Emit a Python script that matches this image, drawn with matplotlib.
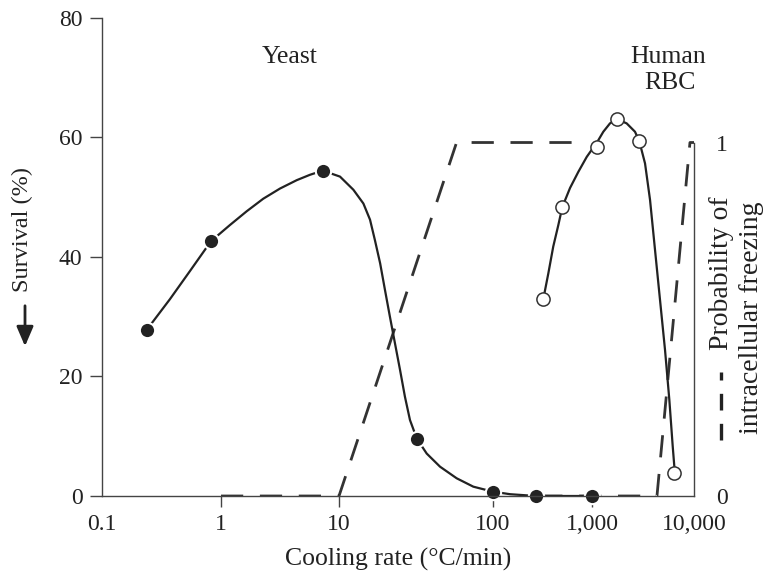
import matplotlib
matplotlib.use("Agg")
import matplotlib.pyplot as plt
import numpy as np
from matplotlib.lines import Line2D
from matplotlib.ticker import FixedLocator, FixedFormatter

plt.rcParams['font.family'] = ['Liberation Serif', 'DejaVu Serif']
plt.rcParams['font.size'] = 17

# hand-drawn log axis: decades are not evenly spaced in the original
decade_logs = [-1, 0, 1, 2, 3, 4]
decade_pos = [102, 221, 339, 493, 592, 694]
xtick_vals = [0.1, 1, 10, 100, 1000, 10000]
xtick_labels = ['0.1', '1', '10', '100', '1,000', '10,000']

# yeast survival (%)
yeast_x = [0.238, 0.824, 7.28, 32.0, 100, 272, 1000]
yeast_y = [27.8, 42.6, 54.4, 9.6, 0.7, 0.0, 0.0]
yeast_curve_x = [0.238, 0.372, 0.548, 0.824, 1.19, 1.65, 2.28, 3.16, 4.38, 5.67,
                 7.28, 10.15, 12.4, 14.4, 15.9, 17.1, 18.5, 19.9, 21.4, 23.1,
                 24.9, 26.8, 28.9, 32.0, 37.1, 45.3, 58.1, 74.5, 100, 149, 272, 1000]
yeast_curve_y = [27.8, 32.9, 37.6, 42.6, 45.3, 47.6, 49.7, 51.4, 52.8, 53.7,
                 54.4, 53.4, 51.2, 48.9, 46.2, 42.8, 38.9, 34.4, 30.0, 25.5,
                 21.1, 16.6, 12.7, 9.6, 7.1, 4.9, 2.96, 1.56, 0.72, 0.3, 0.0, 0.0]

# human RBC survival (%)
rbc_x = [322, 501, 1127, 1758, 2911, 6410]
rbc_y = [32.9, 48.3, 58.3, 63.0, 59.3, 3.8]
rbc_curve_x = [322, 362, 406, 457, 501, 600, 728, 885, 1127, 1291, 1501, 1758,
               2187, 2640, 2911, 3311, 3707, 4150, 4642, 5200, 5730, 6185, 6410]
rbc_curve_y = [32.9, 37.2, 41.7, 45.3, 48.3, 51.5, 54.2, 56.7, 59.2, 60.9, 62.3, 63.0,
               62.3, 60.9, 59.3, 55.6, 49.5, 41.1, 32.8, 24.4, 16.1, 8.3, 5.0]

# probability of intracellular freezing
yeast_freeze_x = [1, 10, 58, 900]
yeast_freeze_p = [0, 0, 1, 1]
rbc_freeze_x = [300, 4335, 9130, 10000]
rbc_freeze_p = [0, 0, 1, 1]


def fwd(x):
    x = np.clip(np.asarray(x, dtype=float), 1e-6, None)
    return np.interp(np.log10(x), decade_logs, decade_pos)


def inv(u):
    return 10 ** np.interp(u, decade_pos, decade_logs)


ink = '#222222'
fig = plt.figure(figsize=(7.64, 5.77), dpi=100)
ax = fig.add_axes([102 / 764, 1 - 496 / 577, 592 / 764, 478.5 / 577])
ax2 = ax.twinx()

ax.set_xscale('function', functions=(fwd, inv))
ax.set_xlim(0.1, 10000)
ax.set_ylim(0, 80)
ax2.set_ylim(0, 80 / 59.1)

ax.xaxis.set_major_locator(FixedLocator(xtick_vals))
ax.xaxis.set_major_formatter(FixedFormatter(xtick_labels))
ax.xaxis.set_minor_locator(FixedLocator([]))
ax.set_yticks([0, 20, 40, 60, 80])
ax2.set_yticks([0, 1])
ax2.set_yticklabels(['0', '1'])

for s in ['top', 'right']:
    ax.spines[s].set_visible(False)
for s in ['top', 'left', 'bottom']:
    ax2.spines[s].set_visible(False)
ax2.spines['right'].set_bounds(0, 1)
for sp in [ax.spines['left'], ax.spines['bottom'], ax2.spines['right']]:
    sp.set_color('#444444')
    sp.set_linewidth(1.0)

ax.tick_params(axis='x', length=8, width=1.0, color='#444444', pad=5, labelcolor=ink)
ax.tick_params(axis='y', length=9, width=1.0, color='#444444', pad=5, labelcolor=ink)
ax2.tick_params(axis='y', length=0, pad=16, labelcolor=ink)
xt = ax.xaxis.get_major_ticks()
xt[0].tick1line.set_visible(False)
xt[-1].tick1line.set_visible(False)

# dashed freezing probability lines (behind)
dash = (0, (8, 6))
ax2.plot(yeast_freeze_x, yeast_freeze_p, color='#333333', lw=2.0, ls=dash)
ax2.plot(rbc_freeze_x, rbc_freeze_p, color='#333333', lw=2.0, ls=dash)

ax.set_zorder(ax2.get_zorder() + 1)
ax.patch.set_visible(False)

ax.plot(yeast_curve_x, yeast_curve_y, color=ink, lw=1.6, solid_joinstyle='round')
ax.plot(rbc_curve_x, rbc_curve_y, color=ink, lw=1.6, solid_joinstyle='round')
ax.plot(yeast_x, yeast_y, 'o', ms=11, mfc=ink, mec='white', mew=1.5, clip_on=False)
ax.plot(rbc_x, rbc_y, 'o', ms=9.5, mfc='white', mec='#333333', mew=1.1, clip_on=False)

ax.text(0.3176, 0.917, 'Yeast', transform=ax.transAxes, ha='center', va='center',
        color=ink, fontsize=18.5)
ax.text(0.956, 0.917, 'Human', transform=ax.transAxes, ha='center', va='center',
        color=ink, fontsize=18.5)
ax.text(0.960, 0.863, 'RBC', transform=ax.transAxes, ha='center', va='center',
        color=ink, fontsize=18.5)

ax.set_xlabel('Cooling rate (°C/min)', color=ink, labelpad=9, fontsize=18.5)

fig.text(0.030, 1 - 230 / 577, 'Survival (%)', rotation=90, ha='center', va='center',
         color=ink, fontsize=17.5)
ax.annotate('', xy=(25 / 764, 1 - 349 / 577), xytext=(25 / 764, 1 - 303 / 577),
            xycoords='figure fraction', textcoords='figure fraction',
            arrowprops=dict(arrowstyle='-|>,head_length=0.7,head_width=0.3', color=ink, lw=2))

fig.text(721 / 764, 1 - 196 / 577, 'Probability of', rotation=90, ha='center', va='top',
         color=ink, fontsize=20)
fig.text(752 / 764, 1 - 318 / 577, 'intracellular freezing', rotation=90, ha='center',
         va='center', color=ink, fontsize=20)
fig.add_artist(Line2D([721 / 764, 721 / 764], [1 - 440 / 577, 1 - 372 / 577],
                      transform=fig.transFigure, color=ink, lw=2.4, ls=(0, (5, 4))))

fig.savefig('out.png', dpi=100)
